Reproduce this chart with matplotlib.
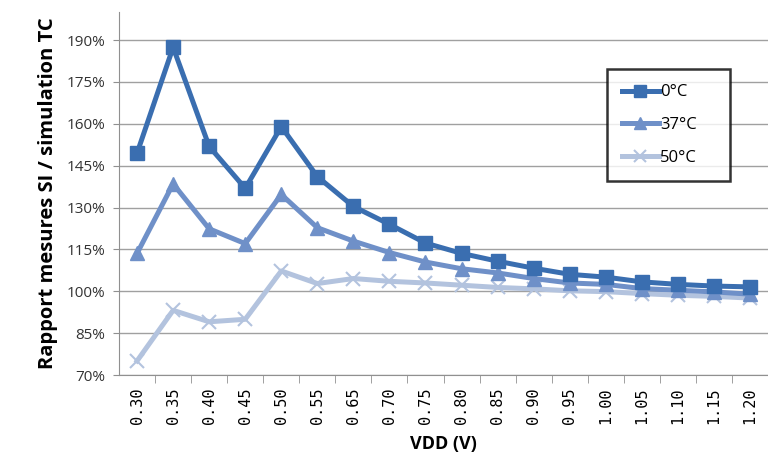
import matplotlib
matplotlib.use("Agg")
import matplotlib.pyplot as plt
from matplotlib.ticker import FuncFormatter

# Données
vdd = ["0.30", "0.35", "0.40", "0.45", "0.50", "0.55", "0.65", "0.70", "0.75",
       "0.80", "0.85", "0.90", "0.95", "1.00", "1.05", "1.10", "1.15", "1.20"]
t0 = [149.5, 187.4, 151.9, 136.9, 159.0, 141.1, 130.4, 124.0, 117.3,
      113.6, 110.8, 108.3, 106.1, 105.1, 103.4, 102.5, 101.9, 101.6]
t37 = [113.6, 138.5, 122.4, 117.1, 134.7, 122.8, 118.0, 113.9, 110.5,
       108.1, 106.6, 104.6, 103.0, 102.5, 101.0, 100.4, 99.8, 99.0]
t50 = [75.1, 93.2, 89.1, 90.0, 107.3, 102.8, 104.6, 103.6, 103.0,
       102.2, 101.4, 100.9, 100.2, 99.9, 99.2, 98.6, 98.2, 97.6]
labels = ["0°C", "37°C", "50°C"]
yticks = [70, 85, 100, 115, 130, 145, 160, 175, 190]

plt.rcParams['font.family'] = ['Open Sans', 'DejaVu Sans']

fig = plt.figure(figsize=(7.68, 4.66), dpi=100)
ax = fig.add_axes([0.155, 0.195, 0.845, 0.779])

x = list(range(len(vdd)))
ax.plot(x, t0, color="#3A6EB0", lw=3.6, marker="s", ms=9.5, label=labels[0], zorder=5)
ax.plot(x, t37, color="#6F90C8", lw=3.6, marker="^", ms=9.5, label=labels[1], zorder=4)
ax.plot(x, t50, color="#B3C3DE", lw=3.6, marker="x", ms=10, mew=1.5, label=labels[2], zorder=3)

ax.set_xlim(-0.5, 17.25)
ax.set_ylim(70, 200)
ax.set_yticks(yticks)
ax.yaxis.set_major_formatter(FuncFormatter(lambda v, p: f"{v:.0f}%"))
ax.grid(axis="y", color="#a0a0a0", lw=1)
ax.set_axisbelow(True)

ax.set_xticks(x)
ax.set_xticklabels(vdd, rotation=90, family="DejaVu Sans Mono", fontsize=11)
ax.set_xticks([i - 0.5 for i in range(1, len(vdd) + 1)], minor=True)
ax.tick_params(axis="x", which="major", length=0, pad=9)
ax.tick_params(axis="x", which="minor", length=6, color="#909090", direction="out")
ax.tick_params(axis="y", length=4, color="#909090", labelsize=11, labelcolor="#333333", pad=6)

for s in ["top", "right"]:
    ax.spines[s].set_visible(False)
ax.spines["left"].set_color("#909090")
ax.spines["bottom"].set_color("#909090")

ax.set_xlabel("VDD (V)", fontsize=13, fontweight="bold", labelpad=8)
ax.set_ylabel("Rapport mesures SI / simulation TC", fontsize=14.5, fontweight="bold", labelpad=6)

leg = ax.legend(loc="center", bbox_to_anchor=(607 / 768, 1 - 182 / 466, 123 / 768, 114 / 466),
                bbox_transform=fig.transFigure, mode="expand", fontsize=12,
                frameon=True, fancybox=False, edgecolor="black", handlelength=2.2,
                handletextpad=0.1, labelspacing=1.0, borderpad=0.9, borderaxespad=0,
                markerscale=0.85)
leg.get_frame().set_linewidth(1.8)

fig.savefig("out.png", dpi=100)
